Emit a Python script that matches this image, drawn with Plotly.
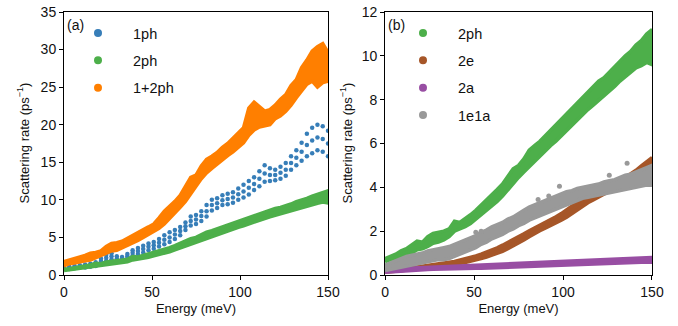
import plotly.graph_objects as go

# ---------------- data ----------------
ENERGY = [0, 3, 6, 9, 12, 15, 18, 21, 24, 27, 30, 33, 36, 39, 42, 45, 48, 51, 54, 57,
          60, 63, 66, 69, 72, 75, 78, 81, 84, 87, 90, 93, 96, 99, 102, 105, 108, 111,
          114, 117, 120, 123, 126, 129, 132, 135, 138, 141, 144, 147, 150]

# panel (a)
ph1_lo = [0.8, 0.8, 0.9, 1.0, 1.0, 1.1, 1.2, 1.5, 1.9, 2.1, 1.8, 1.9, 2.2, 2.6, 2.8, 3.0, 3.3, 3.5, 3.8, 4.1,
          4.4, 4.8, 5.3, 6.0, 6.6, 6.8, 7.2, 7.8, 8.6, 8.9, 9.3, 9.4, 9.6, 10.0, 10.3, 10.7, 11.3, 11.8,
          12.4, 12.5, 12.6, 12.8, 13.2, 14.0, 14.6, 15.2, 15.8, 16.2, 16.6, 16.4, 15.8]
ph1_mid = [0.9, 0.95, 1.05, 1.15, 1.2, 1.3, 1.45, 1.85, 2.3, 2.5, 2.15, 2.15, 2.5, 2.95, 3.2, 3.45, 3.75, 3.95, 4.3, 4.7,
           5.0, 5.4, 5.85, 6.5, 7.2, 7.4, 7.85, 8.5, 9.3, 9.55, 9.95, 10.1, 10.3, 10.75, 11.1, 11.6, 12.1, 12.8,
           13.5, 13.3, 13.3, 13.6, 14.0, 14.9, 15.6, 16.4, 17.3, 17.9, 18.3, 18.1, 17.5]
ph1_hi = [1.0, 1.1, 1.2, 1.3, 1.4, 1.5, 1.7, 2.2, 2.7, 2.9, 2.5, 2.4, 2.8, 3.3, 3.6, 3.9, 4.2, 4.4, 4.8, 5.3,
          5.7, 6.0, 6.4, 7.0, 7.8, 8.0, 8.5, 9.3, 10.0, 10.2, 10.6, 10.8, 11.0, 11.5, 12.0, 12.5, 13.0, 13.8,
          14.6, 14.2, 14.0, 14.4, 14.9, 15.8, 16.6, 17.6, 18.8, 19.6, 20.0, 19.8, 19.2]

ph2_lo = [0.6, 0.7, 0.75, 0.85, 0.9, 1.0, 1.15, 1.2, 1.3, 1.45, 1.5, 1.6, 1.75, 2.0, 2.1, 2.2, 2.35, 2.55, 2.7, 2.9,
          3.1, 3.35, 3.6, 3.9, 4.2, 4.45, 4.7, 4.95, 5.2, 5.45, 5.7, 5.9, 6.1, 6.35, 6.55, 6.8, 7.1, 7.35,
          7.55, 7.75, 7.95, 8.15, 8.35, 8.6, 8.85, 9.05, 9.25, 9.45, 9.55, 9.7, 9.6]
ph2_hi = [0.75, 0.85, 0.95, 1.1, 1.2, 1.35, 1.55, 1.5, 1.75, 1.9, 1.95, 2.0, 2.1, 2.45, 2.4, 2.55, 2.75, 2.95, 3.2, 3.45,
          3.65, 3.9, 4.15, 4.5, 4.85, 5.0, 5.3, 5.7, 5.9, 6.1, 6.35, 6.6, 6.85, 7.1, 7.35, 7.6, 7.85, 8.1,
          8.3, 8.6, 8.85, 9.0, 9.2, 9.45, 9.75, 10.0, 10.2, 10.5, 10.7, 11.0, 11.2]

ph12_lo = [1.2, 1.5, 1.6, 1.8, 1.9, 2.0, 2.3, 2.5, 2.9, 3.2, 3.3, 3.6, 4.0, 4.3, 4.6, 5.0, 5.4, 5.9, 6.2, 6.8,
           7.5, 8.3, 9.0, 9.8, 10.9, 11.8, 12.8, 13.6, 14.2, 14.8, 15.4, 15.9, 16.4, 17.0, 17.6, 18.6, 19.3, 19.7,
           19.8, 20.0, 20.8, 21.2, 21.8, 22.6, 23.6, 24.6, 25.4, 25.8, 25.0, 25.6, 25.8]
ph12_hi = [1.8, 2.0, 2.3, 2.4, 2.6, 2.9, 3.0, 3.2, 3.8, 4.2, 4.3, 4.5, 4.8, 5.3, 5.6, 6.0, 6.4, 6.8, 7.6, 8.5,
           9.2, 9.8, 10.6, 11.8, 13.0, 13.3, 14.5, 15.4, 15.8, 16.3, 17.0, 17.5, 18.2, 18.9, 19.6, 22.2, 23.0, 22.4,
           21.8, 22.0, 22.6, 23.4, 24.0, 25.2, 26.0, 27.6, 28.6, 29.8, 30.4, 30.8, 29.6]

# panel (b)
e2_lo = [0.12, 0.14, 0.16, 0.18, 0.2, 0.22, 0.25, 0.28, 0.3, 0.33, 0.36, 0.4, 0.43, 0.47, 0.52, 0.57, 0.62, 0.68, 0.75, 0.82,
         0.9, 0.98, 1.08, 1.2, 1.32, 1.45, 1.6, 1.75, 1.9, 2.02, 2.14, 2.25, 2.38, 2.5, 2.64, 2.8, 2.98, 3.15,
         3.3, 3.42, 3.55, 3.68, 3.8, 3.92, 4.05, 4.2, 4.35, 4.5, 4.7, 4.9, 5.05]
e2_hi = [0.2, 0.22, 0.25, 0.28, 0.3, 0.33, 0.37, 0.4, 0.43, 0.46, 0.5, 0.54, 0.58, 0.62, 0.67, 0.73, 0.8, 0.87, 0.95, 1.04,
         1.13, 1.24, 1.36, 1.5, 1.62, 1.74, 1.88, 2.02, 2.16, 2.3, 2.42, 2.54, 2.66, 2.8, 2.96, 3.14, 3.32, 3.5,
         3.6, 3.7, 3.8, 3.92, 4.04, 4.16, 4.3, 4.45, 4.6, 4.78, 4.98, 5.18, 5.35]

a2_lo = [0.12, 0.14, 0.16, 0.18, 0.2, 0.22, 0.23, 0.24, 0.25, 0.26, 0.27, 0.28, 0.28, 0.29, 0.3, 0.3, 0.3, 0.31, 0.31, 0.32,
         0.32, 0.33, 0.33, 0.34, 0.35, 0.36, 0.37, 0.38, 0.39, 0.4, 0.41, 0.42, 0.43, 0.44, 0.45, 0.46, 0.47, 0.48,
         0.49, 0.5, 0.51, 0.52, 0.53, 0.54, 0.55, 0.56, 0.57, 0.57, 0.58, 0.58, 0.58]
a2_hi = [0.25, 0.27, 0.3, 0.32, 0.33, 0.35, 0.36, 0.37, 0.38, 0.39, 0.4, 0.41, 0.42, 0.43, 0.44, 0.45, 0.45, 0.46, 0.46, 0.47,
         0.47, 0.48, 0.49, 0.5, 0.51, 0.52, 0.53, 0.54, 0.55, 0.56, 0.57, 0.58, 0.59, 0.6, 0.61, 0.62, 0.63, 0.64,
         0.65, 0.66, 0.68, 0.69, 0.7, 0.71, 0.72, 0.73, 0.75, 0.77, 0.78, 0.79, 0.8]

e1a1_lo = [0.2, 0.25, 0.3, 0.35, 0.4, 0.45, 0.5, 0.55, 0.6, 0.65, 0.7, 0.7, 0.75, 0.85, 0.95, 1.05, 1.15, 1.25, 1.4, 1.5,
           1.65, 1.75, 1.85, 2.0, 2.1, 2.25, 2.35, 2.5, 2.6, 2.7, 2.8, 2.9, 3.0, 3.1, 3.2, 3.3, 3.4, 3.5,
           3.55, 3.6, 3.65, 3.7, 3.75, 3.8, 3.85, 3.9, 3.95, 4.0, 4.05, 4.1, 4.1]
e1a1_hi = [0.45, 0.55, 0.65, 0.75, 0.85, 0.9, 0.95, 1.0, 1.1, 1.15, 1.2, 1.25, 1.3, 1.4, 1.5, 1.6, 1.7, 1.8, 1.95, 2.05,
           2.2, 2.3, 2.4, 2.55, 2.65, 2.8, 2.95, 3.1, 3.2, 3.3, 3.4, 3.5, 3.6, 3.7, 3.8, 3.85, 3.95, 4.0,
           4.05, 4.1, 4.15, 4.25, 4.3, 4.35, 4.45, 4.55, 4.6, 4.7, 4.8, 4.9, 5.0]
e1a1_out_x = [51, 54, 86, 92, 98, 126, 136]
e1a1_out_y = [1.95, 2.0, 3.45, 3.6, 4.05, 4.55, 5.1]

TICKS_A = [0, 5, 10, 15, 20, 25, 30, 35]
TICKS_B = [0, 2, 4, 6, 8, 10, 12]
TICKS_E = [0, 50, 100, 150]

C_BLUE = "#377eb8"
C_GREEN = "#4daf4a"
C_ORANGE = "#ff7f00"
C_BROWN = "#a65628"
C_PURPLE = "#984ea3"
C_GRAY = "#999999"

FONT = "Liberation Sans, Arial, sans-serif"
TXT = "#111111"
Y_TITLE = "Scattering rate (ps<sup>−1</sup>)"

fig = go.Figure()


def band(x, lo, hi, color, xa, ya):
    fig.add_trace(go.Scatter(
        x=list(x) + list(x)[::-1], y=list(lo) + list(hi)[::-1],
        mode="lines", fill="toself", fillcolor=color,
        line=dict(color=color, width=3.5), xaxis=xa, yaxis=ya,
        showlegend=False, hoverinfo="skip"))


def legend_entry(name, color, leg):
    fig.add_trace(go.Scatter(
        x=[None], y=[None], mode="markers", name=name, legendgroup=leg + name,
        marker=dict(color=color, size=8), legend=leg, showlegend=True))


# panel (a)
for ys in (ph1_lo, ph1_mid, ph1_hi):
    fig.add_trace(go.Scatter(x=ENERGY, y=ys, mode="markers",
                             marker=dict(color=C_BLUE, size=4.5),
                             xaxis="x", yaxis="y", showlegend=False))
band(ENERGY, ph2_lo, ph2_hi, C_GREEN, "x", "y")
band(ENERGY, ph12_lo, ph12_hi, C_ORANGE, "x", "y")

# panel (b)
band(ENERGY, ph2_lo, ph2_hi, C_GREEN, "x2", "y2")
band(ENERGY, e2_lo, e2_hi, C_BROWN, "x2", "y2")
band(ENERGY, a2_lo, a2_hi, C_PURPLE, "x2", "y2")
band(ENERGY, e1a1_lo, e1a1_hi, C_GRAY, "x2", "y2")
fig.add_trace(go.Scatter(x=e1a1_out_x, y=e1a1_out_y, mode="markers",
                         marker=dict(color=C_GRAY, size=5),
                         xaxis="x2", yaxis="y2", showlegend=False))

# legends
legend_entry("1ph", C_BLUE, "legend")
legend_entry("2ph", C_GREEN, "legend")
legend_entry("1+2ph", C_ORANGE, "legend")
legend_entry("2ph", C_GREEN, "legend2")
legend_entry("2e", C_BROWN, "legend2")
legend_entry("2a", C_PURPLE, "legend2")
legend_entry("1e1a", C_GRAY, "legend2")

axis_common = dict(showline=True, linecolor="black", linewidth=1, mirror=True,
                   ticks="outside", ticklen=4, tickwidth=1, tickcolor="black",
                   showgrid=False, zeroline=False,
                   tickfont=dict(size=14, color=TXT, family=FONT),
                   title_font=dict(size=13, color=TXT, family=FONT))

leg_common = dict(xref="container", yref="container", xanchor="left", yanchor="top",
                  itemwidth=60, bgcolor="rgba(0,0,0,0)", traceorder="grouped",
                  font=dict(size=14.5, family=FONT, color=TXT), tracegroupgap=5.5)

fig.update_layout(
    width=678, height=326,
    margin=dict(l=64, r=26, t=12, b=51, autoexpand=False),
    plot_bgcolor="white", paper_bgcolor="white",
    font=dict(family=FONT, color=TXT),
    xaxis=dict(domain=[0, 0.449], range=[0, 150], tickvals=TICKS_E,
               title=dict(text="Energy (meV)", standoff=5), **axis_common),
    yaxis=dict(range=[0, 35], tickvals=TICKS_A, **axis_common),
    xaxis2=dict(domain=[0.546, 1], range=[0, 150], tickvals=TICKS_E, anchor="y2",
                title=dict(text="Energy (meV)", standoff=5), **axis_common),
    yaxis2=dict(range=[0, 12], tickvals=TICKS_B, anchor="x2", **axis_common),
    legend=dict(x=63 / 678, y=1 - 17 / 326, **leg_common),
    legend2=dict(x=388 / 678, y=1 - 17 / 326, **leg_common),
    annotations=[
        dict(text="(a)", xref="x domain", yref="y domain", x=0.005, y=0.99,
             xanchor="left", yanchor="top", showarrow=False,
             font=dict(size=14, family=FONT, color=TXT)),
        dict(text="(b)", xref="x2 domain", yref="y2 domain", x=0.005, y=0.99,
             xanchor="left", yanchor="top", showarrow=False,
             font=dict(size=14, family=FONT, color=TXT)),
        dict(text=Y_TITLE, xref="paper", yref="paper", x=-(64 - 23) / 588, y=0.5,
             xanchor="center", yanchor="middle", textangle=-90, showarrow=False,
             font=dict(size=13, family=FONT, color=TXT)),
        dict(text=Y_TITLE, xref="paper", yref="paper", x=(346 - 64) / 588, y=0.5,
             xanchor="center", yanchor="middle", textangle=-90, showarrow=False,
             font=dict(size=13, family=FONT, color=TXT)),
    ],
)

fig.write_html("out.html", post_script="document.body.style.margin='0px';",
               config={"displayModeBar": False})
